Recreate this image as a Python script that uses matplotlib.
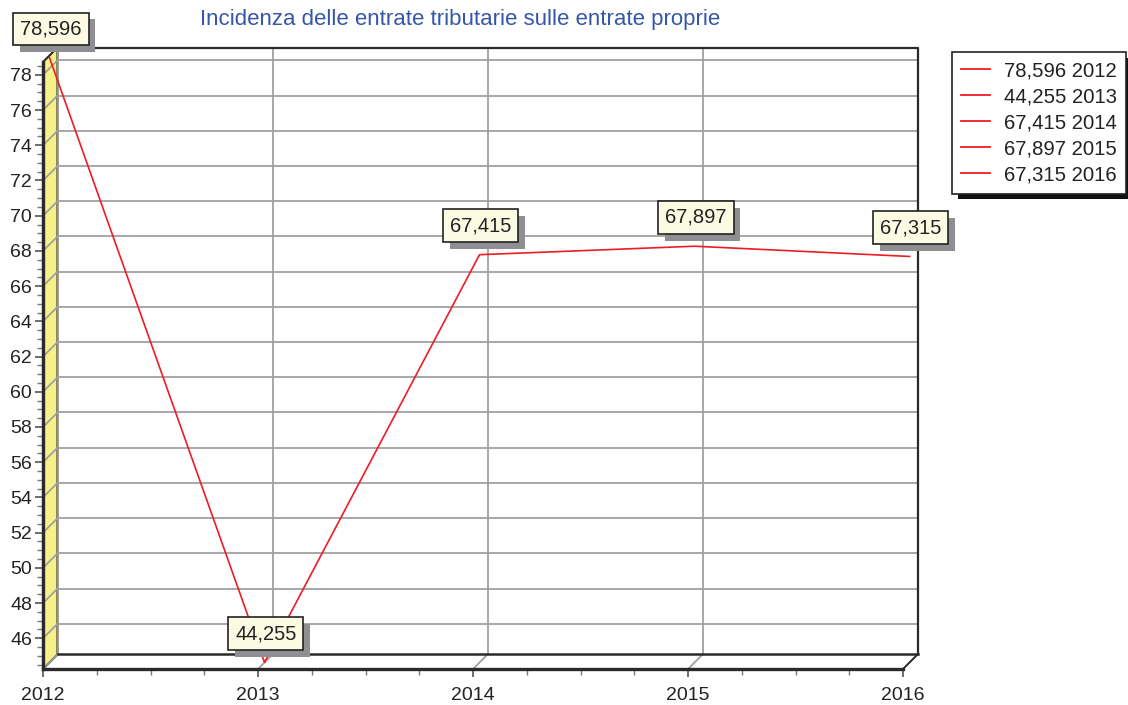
import matplotlib
matplotlib.use('Agg')
import matplotlib.pyplot as plt
import matplotlib.patheffects as pe
from matplotlib.lines import Line2D
from matplotlib.patches import Polygon
from matplotlib.ticker import MultipleLocator

plt.rcParams['font.family'] = ['Liberation Sans', 'DejaVu Sans']

title = 'Incidenza delle entrate tributarie sulle entrate proprie'
years = [2012, 2013, 2014, 2015, 2016]
values = [78.596, 44.255, 67.415, 67.897, 67.315]
y_ticks = list(range(46, 80, 2))

W, H = 1128, 705
fig = plt.figure(figsize=(W / 100, H / 100), dpi=100)
# front plane of the pseudo-3D box (pixels)
ax_l, ax_r, ax_b, ax_t = 43, 903, 669, 62
ax = fig.add_axes([ax_l / W, (H - ax_b) / H, (ax_r - ax_l) / W, (ax_b - ax_t) / H])

x0, x1 = years[0], years[-1]
y0, y1 = min(values), 78.73
ax.set_xlim(x0, x1)
ax.set_ylim(y0, y1)

# depth of the 3D box, in data units
depth = 14.5
DX = depth * (x1 - x0) / (ax_r - ax_l)
DY = depth * (y1 - y0) / (ax_b - ax_t)
sd = 0.45  # where the series sits in depth

grid_c = '#a0a0a0'
edge_c = '#2a2a2a'

# left wall (yellow)
wall = Polygon([(x0, y0), (x0, y1), (x0 + DX, y1 + DY), (x0 + DX, y0 + DY)],
               closed=True, fc='#f6f08a', ec=edge_c, lw=1.5, clip_on=False, zorder=1)
ax.add_patch(wall)

# grid on back wall and left wall
for t in y_ticks:
    ax.plot([x0 + DX, x1 + DX], [t + DY, t + DY], color=grid_c, lw=1.3, clip_on=False, zorder=1)
    ax.plot([x0, x0 + DX], [t, t + DY], color=grid_c, lw=1.3, clip_on=False, zorder=2)
for yr in years:
    ax.plot([yr + DX, yr + DX], [y0 + DY, y1 + DY], color=grid_c, lw=1.3, clip_on=False, zorder=1)
    ax.plot([yr, yr + DX], [y0, y0 + DY], color=grid_c, lw=1.3, clip_on=False, zorder=1)

# back wall frame and floor edges
ax.plot([x0 + DX, x1 + DX, x1 + DX], [y1 + DY, y1 + DY, y0 + DY], color=edge_c, lw=1.6,
        clip_on=False, zorder=3)
ax.plot([x0 + DX, x1 + DX], [y0 + DY, y0 + DY], color=edge_c, lw=1.8, clip_on=False, zorder=3)
ax.plot([x1, x1 + DX], [y0, y0 + DY], color=edge_c, lw=1.3, clip_on=False, zorder=3)

# series
line_c = '#ee1c24'
xs = [yr + sd * DX for yr in years]
ys = [v + sd * DY for v in values]
ax.plot(xs, ys, color=line_c, lw=1.2, clip_on=False, zorder=5)

# marks with shadow
box_shadow = [pe.SimplePatchShadow(offset=(5, -5), shadow_rgbFace='#8f8f93', alpha=1.0), pe.Normal()]
for x, y, v in zip(xs, ys, values):
    lab = f'{v:.3f}'.replace('.', ',')
    a = ax.annotate(lab, (x, y), xytext=(1, 14), textcoords='offset points',
                    ha='center', va='bottom', fontsize=14.5, color='#222222',
                    bbox=dict(boxstyle='square,pad=0.34', fc='#fbfbe3', ec='#222222', lw=1.2),
                    annotation_clip=False, zorder=7)
    a.get_bbox_patch().set_path_effects(box_shadow)

# axes
for s in ['top', 'right']:
    ax.spines[s].set_visible(False)
for s in ['left', 'bottom']:
    ax.spines[s].set_linewidth(2.4)
    ax.spines[s].set_color(edge_c)
    ax.spines[s].set_zorder(4)
ax.set_yticks(y_ticks)
ax.set_xticks(years)
ax.set_xticklabels([str(y) for y in years])
ax.yaxis.set_minor_locator(MultipleLocator(0.5))
ax.xaxis.set_minor_locator(MultipleLocator(0.25))
ax.tick_params(axis='both', which='major', labelsize=14, colors='#555555', labelcolor='#222222',
               length=6, width=1.2)
ax.tick_params(axis='both', which='minor', colors='#777777', length=4, width=1.0)
ax.tick_params(axis='y', which='major', pad=2)
ax.tick_params(axis='x', which='major', pad=7)
ax.patch.set_visible(False)

fig.text(460 / W, 1 - 20 / H, title, ha='center', va='center', color='#3656a8', fontsize=16)

handles = [Line2D([], [], color=line_c, lw=1.3) for _ in years]
labels = [f"{v:.3f}".replace('.', ',') + f" {yr}" for yr, v in zip(years, values)]
leg = fig.legend(handles, labels, loc='upper left', bbox_to_anchor=(952 / W, 1 - 52 / H),
                 bbox_transform=fig.transFigure, borderaxespad=0, fontsize=14.6,
                 frameon=True, fancybox=False, edgecolor='#222222', framealpha=1,
                 handlelength=1.4, handletextpad=0.7, labelspacing=0.35, borderpad=0.45)
leg.get_frame().set_linewidth(1.2)
leg.get_frame().set_path_effects([pe.SimplePatchShadow(offset=(4, -4), shadow_rgbFace='#111111',
                                                       alpha=1.0), pe.Normal()])
for t in leg.get_texts():
    t.set_color('#222222')

fig.savefig('out.png', dpi=100)
